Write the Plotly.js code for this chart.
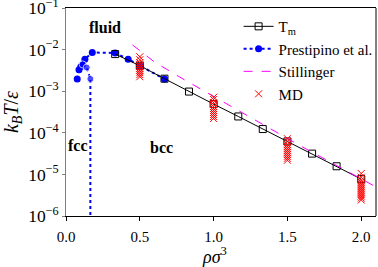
<!DOCTYPE html>
<html>
<head>
<meta charset="utf-8">
<script src="https://cdn.plot.ly/plotly-3.0.1.min.js"></script>
<style>html,body{margin:0;padding:0;background:#fff;}#chart{width:378px;height:267px;}</style>
</head>
<body>
<div id="chart"></div>
<script>
// Melting temperature T_m
const tmX = [0.333, 0.5, 0.667, 0.833, 1.0, 1.167, 1.333, 1.5, 1.667, 1.833, 2.0];
const tmY = [0.0078, 0.0041, 0.0020, 0.00098, 0.00049, 0.000247, 0.000123, 0.000062, 0.0000316, 0.0000157, 0.0000077];

// Prestipino et al. - main branch
const prestX = [0.076, 0.088, 0.101, 0.113, 0.128, 0.178, 0.333, 0.421, 0.5, 0.667];
const prestY = [0.00197, 0.0033, 0.0039, 0.0044, 0.0059, 0.0085, 0.0083, 0.0059, 0.0041, 0.00197];
// Prestipino et al. - fcc/fluid branch and vertical fcc/bcc boundary
const prest2X = [0.113, 0.140, 0.165, 0.165];
const prest2Y = [0.0044, 0.0037, 0.00197, 0.000001];

// Stillinger
const stilX = [0.45, 0.6, 0.8, 1.0, 1.2, 1.4, 1.6, 1.8, 2.0, 2.1];
const stilY = [0.0130, 0.0050, 0.0019, 0.00075, 0.00029, 0.000115, 0.000046, 0.000019, 0.0000080, 0.0000050];

// MD
const mdX = [0.5,0.5,0.5,0.5,0.5,0.5,0.5,0.5,0.5,0.5,
             1.0,1.0,1.0,1.0,1.0,1.0,1.0,1.0,1.0,1.0,1.0,
             1.5,1.5,1.5,1.5,1.5,1.5,1.5,1.5,1.5,1.5,1.5,
             2.0,2.0,2.0,2.0,2.0,2.0,2.0,2.0,2.0,2.0,2.0,2.0,2.0];
const mdY = [0.00673,0.0057,0.00483,0.00433,0.00388,0.00348,0.00311,0.00279,0.00250,0.00223,
             0.000714,0.00063,0.000533,0.000478,0.000428,0.000384,0.000344,0.000308,0.000276,0.000247,0.000221,
             0.000072,0.0000622,0.0000527,0.0000473,0.0000424,0.000038,0.000034,0.0000304,0.0000272,0.0000244,0.0000219,
             0.0000105,0.00000857,0.00000726,0.0000065,0.00000583,0.00000522,0.00000468,0.00000419,0.00000375,0.00000336,0.00000301,0.0000027,0.00000242];

const xTickVals = [0, 0.5, 1.0, 1.5, 2.0];
const xTickText = ['0.0', '0.5', '1.0', '1.5', '2.0'];

const serif = 'Liberation Serif, serif';

const traces = [
  {x: prestX, y: prestY, mode: 'lines+markers', name: 'Prestipino et al.', legendrank: 2,
   line: {color: '#0000ff', width: 2, dash: 'dot'}, marker: {symbol: 'circle', size: 7, color: '#0000ff'}},
  {x: prest2X, y: prest2Y, mode: 'lines+markers', showlegend: false,
   line: {color: '#0000ff', width: 2, dash: 'dot'}, marker: {symbol: 'circle', size: [7,7,7,0], color: '#0000ff'}},
  {x: tmX, y: tmY, mode: 'lines+markers', name: 'T<sub>m</sub>', legendrank: 1,
   line: {color: '#000000', width: 1}, marker: {symbol: 'square-open', size: 7, color: '#000000', line: {width: 1}}},
  {x: stilX, y: stilY, mode: 'lines', name: 'Stillinger', legendrank: 3,
   line: {color: '#ff00ff', width: 1, dash: 'dash'}},
  {x: mdX, y: mdY, mode: 'markers', name: 'MD', legendrank: 4,
   marker: {symbol: 'x-thin-open', size: 7, color: '#ff0000', line: {width: 1, color: '#ff0000'}}}
];

const layout = {
  width: 378, height: 267,
  margin: {l: 66, r: 1, t: 8, b: 51},
  paper_bgcolor: '#ffffff', plot_bgcolor: '#ffffff',
  font: {family: serif, size: 14, color: '#000'},
  showlegend: true,
  legend: {x: 0.555, y: 0.99, xanchor: 'left', yanchor: 'top', bgcolor: 'rgba(0,0,0,0)',
           font: {family: serif, size: 15, color: '#000'}, tracegroupgap: 0},
  xaxis: {range: [0, 2.1], tickvals: xTickVals, ticktext: xTickText,
          showgrid: false, zeroline: false, showline: true, linecolor: '#000', linewidth: 1, mirror: true,
          ticks: 'outside', ticklen: 4, tickcolor: '#000', ticklabelstandoff: 3,
          tickfont: {family: serif, size: 15}, automargin: false},
  yaxis: {type: 'log', range: [-6.0001, -0.9999], dtick: 1, exponentformat: 'power',
          showgrid: false, zeroline: false, showline: true, linecolor: '#808080', linewidth: 1.5,
          ticks: 'outside', ticklen: 3, tickcolor: '#808080', ticklabeloverflow: 'allow',
          tickfont: {family: serif, size: 14},
          title: {text: '<i>k<sub>B</sub>T</i>/<i>ε</i>', font: {family: serif, size: 20}, standoff: 5}},
  shapes: [
    {type: 'line', xref: 'paper', yref: 'paper', x0: 1, x1: 1, y0: 0, y1: 1, line: {color: '#000', width: 1}}
  ],
  annotations: [
    {text: '<i>ρσ</i><sup>3</sup>', xref: 'paper', yref: 'paper', x: (215-66)/311, y: -(255-216)/208, xanchor: 'center', yanchor: 'middle', showarrow: false, font: {family: serif, size: 18}},
    {text: '<b>fluid</b>', xref: 'paper', yref: 'paper', x: (105-66)/311, y: 1-(27-8)/208, xanchor: 'center', yanchor: 'middle', showarrow: false, font: {family: serif, size: 16}},
    {text: '<b>fcc</b>', xref: 'paper', yref: 'paper', x: (78-66)/311, y: 1-(145-8)/208, xanchor: 'center', yanchor: 'middle', showarrow: false, font: {family: serif, size: 16}},
    {text: '<b>bcc</b>', xref: 'paper', yref: 'paper', x: (162-66)/311, y: 1-(147-8)/208, xanchor: 'center', yanchor: 'middle', showarrow: false, font: {family: serif, size: 16}}
  ]
};

Plotly.newPlot('chart', traces, layout, {displayModeBar: false, staticPlot: true});
</script>
</body>
</html>
